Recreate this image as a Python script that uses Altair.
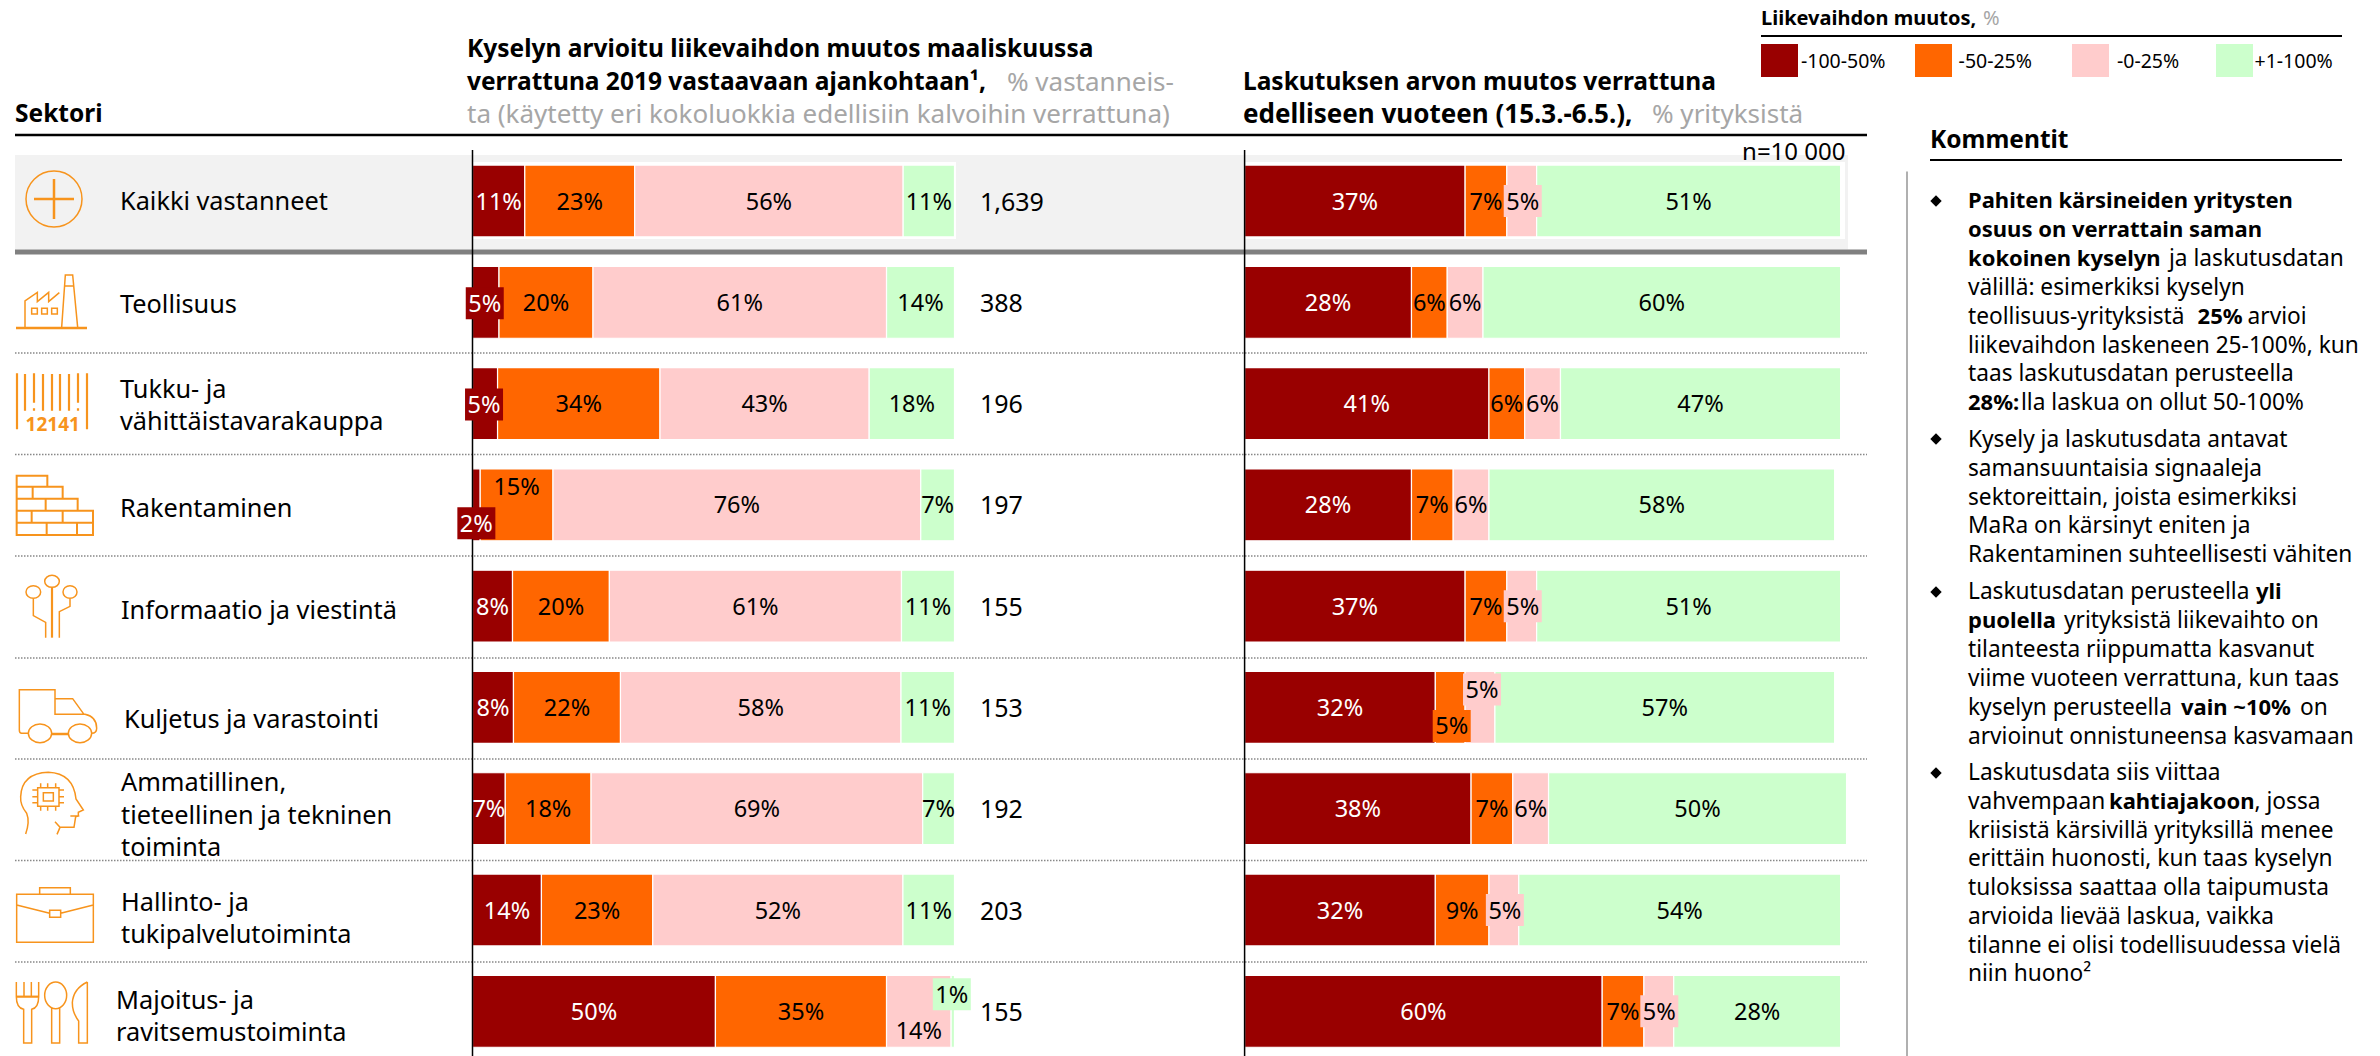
import altair as alt
import pandas as pd

FONT = "Noto Sans"
W, H = 2364, 1048
DARK, ORANGE, PINK, GREEN = "#990000", "#FF6600", "#FFCCCC", "#CCFFCC"
ICON = "#F7941D"
GREY = "#A6A6A6"

sectors = [
    ["Kaikki vastanneet"], ["Teollisuus"], ["Tukku- ja", "vähittäistavarakauppa"], ["Rakentaminen"],
    ["Informaatio ja viestintä"], ["Kuljetus ja varastointi"],
    ["Ammatillinen,", "tieteellinen ja tekninen", "toiminta"],
    ["Hallinto- ja", "tukipalvelutoiminta"], ["Majoitus- ja", "ravitsemustoiminta"],
]
categories = ["-100-50%", "-50-25%", "-0-25%", "+1-100%"]
colors = [DARK, ORANGE, PINK, GREEN]
respondents = ["1,639", "388", "196", "197", "155", "153", "192", "203", "155"]

survey_labels = [
    [11, 23, 56, 11], [5, 20, 61, 14], [5, 34, 43, 18], [2, 15, 76, 7], [8, 20, 61, 11],
    [8, 22, 58, 11], [7, 18, 69, 7], [14, 23, 52, 11], [50, 35, 14, 1],
]
survey_values = [
    [10.85, 22.8, 55.7, 10.65], [5.5, 19.5, 60.9, 14.1], [5.2, 33.7, 43.4, 17.7], [1.6, 15.1, 76.3, 7.0],
    [8.3, 20.1, 60.6, 11.0], [8.5, 22.2, 58.2, 11.1], [6.8, 17.8, 68.8, 6.6], [14.3, 23.1, 51.9, 10.7],
    [50.4, 35.5, 13.4, 0.7],
]
billing_values = [
    [37, 7, 5, 51], [28, 6, 6, 60], [41, 6, 6, 47], [28, 7, 6, 58], [37, 7, 5, 51],
    [32, 5, 5, 57], [38, 7, 6, 50], [32, 9, 5, 54], [60, 7, 5, 28],
]

ROW0, ROW8 = 201.0, 1011.3
ROWSTEP = (ROW8 - ROW0) / 8
LEFT = (472.5, 954.5)
RIGHT = (1244.6, 1840.6)

canvas_x = alt.Scale(domain=[8, 8 + W], range=[0, W], nice=False, zero=False)
canvas_y = alt.Scale(domain=[8, 8 + H], range=[0, H], nice=False, zero=False)
row_y = alt.Scale(domain=[0, 8], range=[ROW0 - 8, ROW8 - 8], nice=False, zero=False)


def pct_x(span):
    return alt.Scale(domain=[0, 100], range=[span[0] - 8, span[1] - 8], nice=False, zero=False)


layers = []


def rects(items):
    df = pd.DataFrame(items, columns=["x", "y", "x2", "y2", "c"])
    return alt.Chart(df).mark_rect().encode(
        x=alt.X("x:Q", scale=canvas_x, axis=None), x2="x2:Q",
        y=alt.Y("y:Q", scale=canvas_y, axis=None), y2="y2:Q",
        color=alt.Color("c:N", scale=None))


def rules(items, color, width, dash=None):
    df = pd.DataFrame(items, columns=["x", "y", "x2", "y2"])
    kw = {"strokeDash": dash} if dash else {}
    return alt.Chart(df).mark_rule(color=color, strokeWidth=width, **kw).encode(
        x=alt.X("x:Q", scale=canvas_x, axis=None), x2="x2:Q",
        y=alt.Y("y:Q", scale=canvas_y, axis=None), y2="y2:Q")


def texts(items, size=24, weight="normal", align="left", font=FONT):
    df = pd.DataFrame(items, columns=["x", "y", "t", "c"])
    return alt.Chart(df).mark_text(font=font, fontSize=size, fontWeight=weight, align=align,
                                   baseline="middle").encode(
        x=alt.X("x:Q", scale=canvas_x, axis=None),
        y=alt.Y("y:Q", scale=canvas_y, axis=None),
        text="t:N", color=alt.Color("c:N", scale=None))


def icon(ox, oy, path, width=1.5):
    df = pd.DataFrame({"x": [ox], "y": [oy]})
    return alt.Chart(df).mark_point(shape=path, size=4 / 9, stroke=ICON, strokeWidth=width,
                                    fill=None, opacity=1, filled=False).encode(
        x=alt.X("x:Q", scale=canvas_x, axis=None),
        y=alt.Y("y:Q", scale=canvas_y, axis=None))


def ell(cx, cy, rx, ry):
    return f"M{cx-rx},{cy} A{rx},{ry} 0 1 1 {cx+rx},{cy} A{rx},{ry} 0 1 1 {cx-rx},{cy} "


def box(a, b, c, d):
    return f"M{a},{b} L{c},{b} L{c},{d} L{a},{d} Z "


# --- backgrounds
layers.append(rects([
    (15, 155, 1848, 249.5, "#F2F2F2"),
    (472, 162, 956, 239, "#FFFFFF"),
    (1244, 162, 1845, 239, "#FFFFFF"),
]))
layers.append(rects([(15, 249.5, 1867, 254.5, "#808080")]))
layers.append(rules([(15, 135, 1867, 135)], "#000000", 2.5))
layers.append(rules([(15, y, 1867, y) for y in [353, 454.5, 556, 658, 759, 860.5, 962]], "#888888", 1.3, [1.5, 1.5]))
layers.append(rules([(1907, 171.5, 1907, 1056)], "#B0B0B0", 2))
layers.append(rules([(1930, 160, 2342, 160), (1761, 36, 2342, 36)], "#000000", 2))


# --- bars
def segments(values):
    rows = []
    for r, vals in enumerate(values):
        s = 0
        for i, v in enumerate(vals):
            rows.append({"row": r, "cat": categories[i], "a": s, "b": s + v,
                         "y": r - 0.355, "y2": r + 0.355, "i": i})
            s += v
    return rows


def bars(values, span):
    df = pd.DataFrame(segments(values))
    return alt.Chart(df).mark_rect(stroke="white", strokeWidth=1.2).encode(
        x=alt.X("a:Q", scale=pct_x(span), axis=None), x2="b:Q",
        y=alt.Y("y:Q", scale=row_y, axis=None), y2="y2:Q",
        color=alt.Color("cat:N", scale=alt.Scale(domain=categories, range=colors), legend=None))


layers.append(bars(survey_values, LEFT))
layers.append(bars(billing_values, RIGHT))
layers.append(rules([(472.5, 150, 472.5, 1056), (1244.6, 150, 1244.6, 1056)], "#000000", 1.5))

# shifted labels: (row, seg) -> (dx px, dy px, boxed)
left_adj = {(1, 0): (-1, 1, True), (2, 0): (-1, 1, True), (3, 0): (0, 18.5, True), (3, 1): (0, -18, False),
            (8, 2): (0, 18.7, False), (8, 3): (-1, -17, True)}
right_adj = {(0, 2): (1, 0, True), (4, 2): (1, 0, True), (5, 1): (1.5, 18.5, True), (5, 2): (2, -18, True),
             (7, 2): (1, 0, True), (8, 2): (0.5, 0, True)}


def labels(values, shown, span, adj):
    ppp = (span[1] - span[0]) / 100
    recs = []
    for seg in segments(values):
        r, i = seg["row"], seg["i"]
        dx, dy, boxed = adj.get((r, i), (0, 0, False))
        mx = (seg["a"] + seg["b"]) / 2 + dx / ppp
        my = r + dy / ROWSTEP
        recs.append({"mx": mx, "my": my, "ty": my + 1.5 / ROWSTEP, "t": f"{shown[r][i]}%", "boxed": boxed,
                     "c": "white" if i == 0 else "black", "fill": colors[i],
                     "x1": mx - 19 / ppp, "x2": mx + 19 / ppp,
                     "y1": my - 16 / ROWSTEP, "y2": my + 16 / ROWSTEP})
    df = pd.DataFrame(recs)
    xs = pct_x(span)
    bx = alt.Chart(df[df.boxed]).mark_rect().encode(
        x=alt.X("x1:Q", scale=xs, axis=None), x2="x2:Q",
        y=alt.Y("y1:Q", scale=row_y, axis=None), y2="y2:Q",
        color=alt.Color("fill:N", scale=None))
    tx = alt.Chart(df).mark_text(font=FONT, fontSize=23.5, baseline="middle", align="center").encode(
        x=alt.X("mx:Q", scale=xs, axis=None),
        y=alt.Y("ty:Q", scale=row_y, axis=None),
        text="t:N", color=alt.Color("c:N", scale=None))
    return [bx, tx]


layers += labels(survey_values, survey_labels, LEFT, left_adj)
layers += labels(billing_values, billing_values, RIGHT, right_adj)

# respondent counts
ndf = pd.DataFrame({"row": [r + 1.5 / ROWSTEP for r in range(9)], "t": respondents})
layers.append(alt.Chart(ndf).mark_text(font=FONT, fontSize=25, baseline="middle", align="left").encode(
    x=alt.value(980 - 8), y=alt.Y("row:Q", scale=row_y, axis=None), text="t:N"))

# --- sector names
name_x = [120, 120, 120, 120, 121, 124, 121, 121, 116]
name_y = [[201.5], [304.5], [389.5, 421.5], [508.5], [610.5], [719.5], [782.5, 815.5, 847.5], [902.5, 934.5],
          [1000.5, 1032.5]]
items = []
for r, lines in enumerate(sectors):
    for s, y in zip(lines, name_y[r]):
        items.append((name_x[r], y, s, "#000000"))
layers.append(texts(items, 25.3))

# --- headers
layers.append(texts([
    (15, 114.5, "Sektori", "#000000"),
    (467, 50, "Kyselyn arvioitu liikevaihdon muutos maaliskuussa", "#000000"),
    (467, 82.5, "verrattuna 2019 vastaavaan ajankohtaan¹,", "#000000"),
    (1243, 82.5, "Laskutuksen arvon muutos verrattuna", "#000000"),
    (1930, 140.5, "Kommentit", "#000000"),
], 24.5, "bold"))
layers.append(texts([(1243, 114.5, "edelliseen vuoteen (15.3.-6.5.),", "#000000")], 26, "bold"))
layers.append(texts([
    (1007, 82.5, "% vastanneis-", GREY),
    (467, 114.5, "ta (käytetty eri kokoluokkia edellisiin kalvoihin verrattuna)", GREY),
    (1652, 114.5, "% yrityksistä", GREY),
], 26))
layers.append(texts([(1845.5, 153, "n=10 000", "#000000")], 24, align="right"))

# --- legend
layers.append(texts([(1761, 19, "Liikevaihdon muutos,", "#000000")], 20, "bold"))
layers.append(texts([(1983, 19, "%", GREY)], 20))
swatch_x = [1761, 1915, 2072, 2216]
legend_text_x = [1801, 1958.6, 2117, 2254.5]
layers.append(rects([(x, 44, x + 37, 77, c) for x, c in zip(swatch_x, colors)]))
layers.append(texts([(x, 62, t, "#000000") for x, t in zip(legend_text_x, categories)], 19.5))

# --- comments
reg = [
    (2169, 257.4, "ja laskutusdatan"),
    (1968, 286.5, "välillä: esimerkiksi kyselyn"),
    (1968, 315.2, "teollisuus-yrityksistä"),
    (2247.6, 315.2, "arvioi"),
    (1968, 344, "liikevaihdon laskeneen 25-100%, kun"),
    (1968, 372.6, "taas laskutusdatan perusteella"),
    (2021, 401.4, "lla laskua on ollut 50-100%"),
    (1968, 438, "Kysely ja laskutusdata antavat"),
    (1968, 467, "samansuuntaisia signaaleja"),
    (1968, 496, "sektoreittain, joista esimerkiksi"),
    (1968, 524, "MaRa on kärsinyt eniten ja"),
    (1968, 553, "Rakentaminen suhteellisesti vähiten"),
    (1968, 590, "Laskutusdatan perusteella"),
    (2064, 619.6, "yrityksistä liikevaihto on"),
    (1968, 648, "tilanteesta riippumatta kasvanut"),
    (1968, 677, "viime vuoteen verrattuna, kun taas"),
    (1968, 706, "kyselyn perusteella"),
    (2300, 706, "on"),
    (1968, 735, "arvioinut onnistuneensa kasvamaan"),
    (1968, 771.6, "Laskutusdata siis viittaa"),
    (1968, 800, "vahvempaan"),
    (2254.5, 800, ", jossa"),
    (1968, 829, "kriisistä kärsivillä yrityksillä menee"),
    (1968, 857, "erittäin huonosti, kun taas kyselyn"),
    (1968, 886.5, "tuloksissa saattaa olla taipumusta"),
    (1968, 915, "arvioida lievää laskua, vaikka"),
    (1968, 944, "tilanne ei olisi todellisuudessa vielä"),
    (1968, 972.6, "niin huono²"),
]
bold = [
    (1968, 199, "Pahiten kärsineiden yritysten"),
    (1968, 228.4, "osuus on verrattain saman"),
    (1968, 257.4, "kokoinen kyselyn"),
    (2197.6, 315.2, "25%"),
    (1968, 401.4, "28%:"),
    (2256, 590, "yli"),
    (1968, 619.6, "puolella"),
    (2181, 706, "vain ~10%"),
    (2109, 800, "kahtiajakoon"),
]
layers.append(texts([(x, y + 1.5, t, "#000000") for x, y, t in reg], 22.7))
layers.append(texts([(x, y + 1.5, t, "#000000") for x, y, t in bold], 22, "bold"))
bul = pd.DataFrame({"x": [1936, 1936, 1936, 1936], "y": [201, 439, 592, 773]})
layers.append(alt.Chart(bul).mark_point(shape="diamond", size=130, filled=True, color="#000000", opacity=1).encode(
    x=alt.X("x:Q", scale=canvas_x, axis=None), y=alt.Y("y:Q", scale=canvas_y, axis=None)))

# --- icons
layers.append(icon(10, 155, ell(132, 132, 84, 84)))
layers.append(icon(10, 155, "M132,72 L132,192 M72,132 L192,132", 2.5))
layers.append(icon(10, 155, "M45,517 L45,438 L82,412 L82,440 L116,412 L116,440 L148,413 "
                            "M155,517 L166,360 L188,360 L203,517 M164,393 L191,393 "
                            + box(65, 460, 82, 477) + box(95, 460, 112, 477) + box(125, 460, 142, 477)))
layers.append(icon(10, 155, "M18,519 L231,519", 2.5))
layers.append(icon(10, 360, "M21,40 L21,208 M45,42 L45,152 M72,40 L72,128 M72,145 L72,152 M99,42 L99,152 "
                            "M126,42 L126,152 M150,42 L150,152 M177,42 L177,152 M204,40 L204,128 "
                            "M204,145 L204,152 M231,40 L231,208", 2.2))
layers.append(texts([(52.7, 425, "12141", ICON)], 19, "bold", "center"))
layers.append(icon(10, 360, "M20,347 L112,347 L112,380 L158,380 L158,416 L203,416 L203,452 L249,452 L249,525 L20,525 Z "
                            "M20,380 L112,380 M20,416 L158,416 M20,452 L203,452 M20,488 L249,488 "
                            "M68,380 L68,416 M107,416 L107,452 M65,452 L65,488 M158,452 L158,488 "
                            "M110,488 L110,525 M201,488 L201,525", 2))
layers.append(icon(10, 565, ell(70, 81, 22, 19) + ell(126, 49, 22, 18) + ell(180, 81, 21, 19)
                   + "M70,100 L70,152 L107,172 L107,218 M180,100 L180,124 L148,140 L148,218"))
layers.append(icon(10, 565, "M126,68 L126,218", 2.2))
layers.append(icon(10, 565, "M55,505 L35,505 Q28,505 28,495 L28,374 L135,374 L135,448 L225,448 "
                            "Q260,455 260,490 Q260,505 245,505 M135,401 L188,401 L222,448 "
                            + ell(90, 505, 35, 28) + ell(210, 505, 35, 28)))
layers.append(icon(10, 565, "M125,507 L175,507", 2.5))
layers.append(icon(10, 765, "M47,207 Q60,170 50,145 Q30,120 32,95 Q35,25 115,22 Q190,25 198,102 L220,135 L205,142 "
                            "L205,153 L197,155 L192,187 L150,187 L135,170 M150,187 L141,208 M181,153 L208,153 "
                            + box(83, 68, 147, 124) + box(100, 83, 130, 108)
                            + "M92,55 L92,68 M113,55 L113,68 M137,55 L137,68 M92,124 L92,137 M113,124 L113,137 "
                              "M137,124 L137,137 M67,75 L83,75 M67,95 L83,95 M67,113 L83,113 M147,75 L162,75 "
                              "M147,95 L162,95 M147,113 L162,113"))
layers.append(icon(10, 765, box(20, 388, 250, 532) + "M89,388 L89,368 L181,368 L181,388 M20,420 L119,445 "
                            "M152,445 L250,420 " + box(119, 436, 152, 457)))
layers.append(icon(10, 966, "M19,48 L19,92 Q19,125 41,130 L41,231 L65,231 L65,130 Q86,125 86,92 L86,48 "
                            "M42,48 L42,92 M64,48 L64,92 " + ell(137, 88, 33, 40)
                            + "M125,127 L125,231 L149,231 L149,127 "
                              "M232,48 L232,231 L206,231 L206,165 Q187,140 187,110 Q190,68 232,48"))
layers.append(icon(10, 966, "M19,92 L86,92", 2.2))

chart = alt.layer(*layers).resolve_scale(x="independent", y="independent", color="independent").properties(
    width=W, height=H, padding=0, background="white",
    autosize=alt.AutoSizeParams(type="none")
).configure_view(stroke=None)

chart.save("out.html", embed_options={"renderer": "svg", "actions": False})
